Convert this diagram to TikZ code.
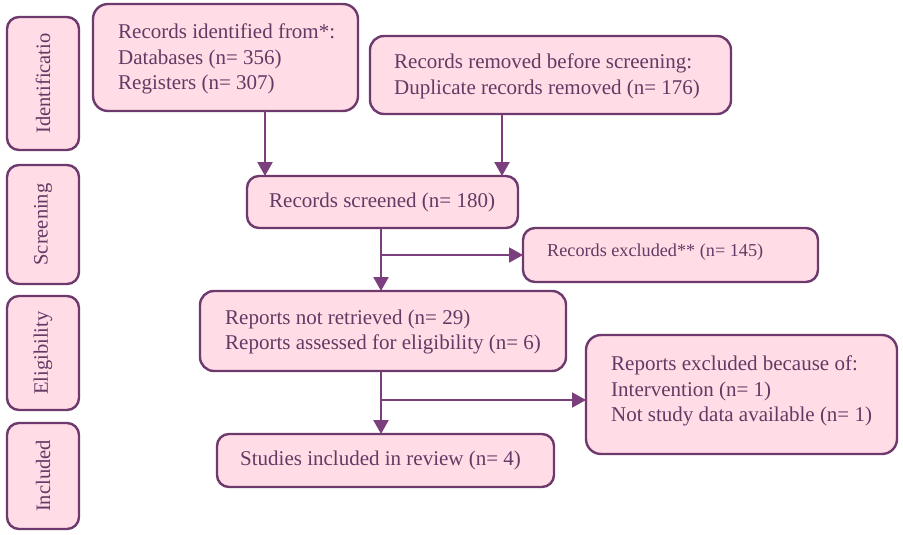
\documentclass[tikz,border=0pt]{standalone}
\usepackage{fontspec}
\setmainfont{Liberation Serif}
\usetikzlibrary{arrows.meta}
\definecolor{bfill}{HTML}{FFDCE6}
\definecolor{bdraw}{HTML}{6E3A6E}
\definecolor{btext}{HTML}{633A63}
\definecolor{lcol}{HTML}{7A3F7C}
\tikzset{
  stagebox/.style={draw=bdraw, fill=bfill, line width=2.4pt, rounded corners=12pt},
  boxtext/.style={text=btext, font=\fontsize{21}{25.5}\selectfont, align=left, anchor=west, inner sep=0pt},
  smalltext/.style={text=btext, font=\fontsize{18.2}{22}\selectfont, align=left, anchor=west, inner sep=0pt},
  sidetext/.style={text=btext, font=\fontsize{20.5}{23}\selectfont, rotate=90, inner sep=0pt},
  flow/.style={draw=lcol, line width=2.4pt, -{Triangle[width=15pt,length=14pt]}},
  branch/.style={draw=lcol, line width=1.9pt, -{Triangle[width=15pt,length=14pt]}}
}
\begin{document}
\begin{tikzpicture}[x=1pt,y=-1pt]
\useasboundingbox (0,0) rectangle (903,535);
% side stage boxes
\draw[stagebox] (7,17) rectangle (79,150);
\node[sidetext] (sid) at (43,83.5) {Identificatio};
\draw[stagebox] (7,165) rectangle (79,284);
\node[sidetext] (sscr) at (43,224.5) {Screening};
\draw[stagebox] (7,296) rectangle (79,410);
\node[sidetext] (selig) at (43,353) {Eligibility};
\draw[stagebox] (7,423) rectangle (79,529);
\node[sidetext] (sinc) at (43,476) {Included};
% main boxes
\draw[stagebox,rounded corners=15pt] (93,4) rectangle (358,111);
\node[boxtext] (t1) at (118,59) {Records identified from*:\\Databases (n= 356)\\Registers (n= 307)};
\coordinate (b1) at (265,111);
\draw[stagebox,rounded corners=14pt] (370,36) rectangle (731,114);
\node[boxtext] (t2) at (394,76.5) {Records removed before screening:\\Duplicate records removed (n= 176)};
\coordinate (b2) at (502,114);
\draw[stagebox] (247,176) rectangle (518,228);
\node[boxtext] (t3) at (269,202) {Records screened (n= 180)};
\coordinate (t3top1) at (265,176);
\coordinate (t3top2) at (502,176);
\coordinate (b3) at (381,228);
\draw[stagebox] (523,228) rectangle (818,282);
\node[smalltext] (t4) at (547,252) {Records excluded** (n= 145)};
\coordinate (l4) at (523,255);
\draw[stagebox,rounded corners=14pt] (200,291) rectangle (566,371);
\node[boxtext] (t5) at (225,332) {Reports not retrieved (n= 29)\\Reports assessed for eligibility (n= 6)};
\coordinate (t5top) at (381,291);
\coordinate (b5) at (381,371);
\draw[stagebox,rounded corners=15pt] (586,335) rectangle (897,454);
\node[boxtext] (t6) at (611,391) {Reports excluded because of:\\Intervention (n= 1)\\Not study data available (n= 1)};
\coordinate (l6) at (586,400);
\draw[stagebox] (217,434) rectangle (554,487);
\node[boxtext] (t7) at (240,460.5) {Studies included in review (n= 4)};
\coordinate (t7top) at (381,434);
% connectors
\draw[flow] (b1) -- (t3top1);
\draw[flow] (b2) -- (t3top2);
\draw[flow] (b3) -- (t5top);
\coordinate (j1) at (381,255);
\draw[branch] (j1) -- (l4);
\draw[flow] (b5) -- (t7top);
\coordinate (j2) at (381,400);
\draw[branch] (j2) -- (l6);
\end{tikzpicture}
\end{document}
